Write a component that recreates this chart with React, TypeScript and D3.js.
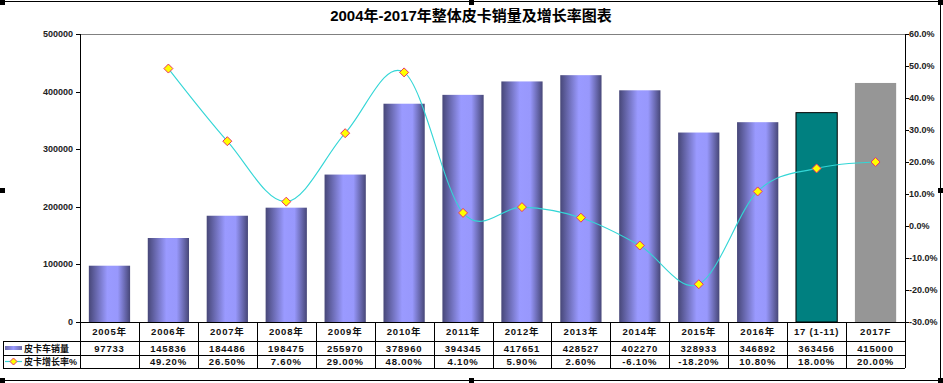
import React from "react";
import * as d3 from "d3";

const categories = ["2005年", "2006年", "2007年", "2008年", "2009年", "2010年", "2011年", "2012年", "2013年", "2014年", "2015年", "2016年", "17 (1-11)", "2017F"];
const sales = [97733, 145836, 184486, 198475, 255970, 378960, 394345, 417651, 428527, 402270, 328933, 346892, 363456, 415000];
const growth: (number | null)[] = [null, 49.2, 26.5, 7.6, 29.0, 48.0, 4.1, 5.9, 2.6, -6.1, -18.2, 10.8, 18.0, 20.0];
const growthLabels = ["", "49.20%", "26.50%", "7.60%", "29.00%", "48.00%", "4.10%", "5.90%", "2.60%", "-6.10%", "-18.20%", "10.80%", "18.00%", "20.00%"];
const leftTicks = [0, 100000, 200000, 300000, 400000, 500000];
const rightTicks = [-30, -20, -10, 0, 10, 20, 30, 40, 50, 60];
const title = "2004年-2017年整体皮卡销量及增长率图表";
const seriesNames = ["皮卡车销量", "皮卡增长率%"];

const W = 943, H = 383;
const L = 80, R = 905, T = 34, B = 322;
const FONT = "Arial, 'Liberation Sans', 'Noto Sans CJK SC', sans-serif";

export default function App() {
  const xBand = d3.scaleBand<string>().domain(categories).range([L, R]).paddingInner(0.3).paddingOuter(0.15);
  const xCol = d3.scaleBand<string>().domain(categories).range([L, R]).padding(0);
  const yL = d3.scaleLinear().domain([0, 500000]).range([B, T]);
  const yR = d3.scaleLinear().domain([-30, 60]).range([B, T]);

  const pts: [number, number][] = [];
  categories.forEach((c, i) => {
    const g = growth[i];
    if (g !== null) pts.push([xBand(c)! + xBand.bandwidth() / 2, yR(g)]);
  });
  const line = d3.line().curve(d3.curveCatmullRom.alpha(0))(pts) || "";
  const diamond = (x: number, y: number, r = 4.5) => `M${x},${y - r}L${x + r},${y}L${x},${y + r}L${x - r},${y}Z`;

  const rowTop = B, row1 = 341, row2 = 355, row3 = 368;

  const barFill = (i: number) => (i === 12 ? "#008080" : i === 13 ? "#969696" : "url(#barGrad)");

  return (
    <svg width={W} height={H} style={{ position: "absolute", left: 0, top: 0, background: "#fff" }} fontFamily={FONT}>
      <defs>
        <linearGradient id="barGrad" x1="0" x2="1" y1="0" y2="0">
          <stop offset="0" stopColor="#474778" />
          <stop offset="0.45" stopColor="#9a9aff" />
          <stop offset="0.7" stopColor="#9898fc" />
          <stop offset="1" stopColor="#474778" />
        </linearGradient>
        <linearGradient id="legGrad" x1="0" x2="1" y1="0" y2="0">
          <stop offset="0" stopColor="#6b6ba8" />
          <stop offset="0.5" stopColor="#9a9aff" />
          <stop offset="1" stopColor="#6b6ba8" />
        </linearGradient>
      </defs>
      <rect x={0} y={0} width={W} height={H} fill="#fff" />
      {/* chart frame */}
      <g stroke="#000" strokeWidth={1}>
        <line x1={0} x2={940.5} y1={1.5} y2={1.5} />
        <line x1={940.5} x2={940.5} y1={1.5} y2={381} />
        <line x1={0} x2={940.5} y1={380.5} y2={380.5} />
      </g>
      {[[0, 0], [469, 0], [938, 0], [0, 188], [938, 188], [0, 378], [469, 378], [938, 378]].map(([x, y], i) => (
        <rect key={i} x={x} y={y} width={5} height={5} fill="#000" />
      ))}

      <text x={471} y={21} textAnchor="middle" fontSize={15} fontWeight="bold" fill="#000">{title}</text>

      {/* plot border */}
      <line x1={L} x2={R} y1={T + 0.5} y2={T + 0.5} stroke="#808080" />

      {/* bars */}
      {categories.map((c, i) => (
        <rect key={c} x={xBand(c)} y={yL(sales[i])} width={xBand.bandwidth()} height={B - yL(sales[i])}
          fill={barFill(i)} stroke={i === 12 ? "#000" : "none"} strokeWidth={1} />
      ))}

      {/* axes */}
      <line x1={L + 0.5} x2={L + 0.5} y1={T} y2={B} stroke="#000" />
      <line x1={R + 0.5} x2={R + 0.5} y1={T} y2={B} stroke="#000" />
      {leftTicks.map((t) => (
        <g key={t}>
          <line x1={L - 4} x2={L} y1={Math.round(yL(t)) + 0.5} y2={Math.round(yL(t)) + 0.5} stroke="#000" />
          <text x={73} y={yL(t) + 3} textAnchor="end" fontSize={9} fontWeight="bold" fill="#222">{t}</text>
        </g>
      ))}
      {rightTicks.map((t) => (
        <g key={t}>
          <line x1={R} x2={R + 4} y1={Math.round(yR(t)) + 0.5} y2={Math.round(yR(t)) + 0.5} stroke="#000" />
          <text x={909} y={yR(t) + 3} textAnchor="start" fontSize={9} fontWeight="bold" fill="#222">{t.toFixed(1)}%</text>
        </g>
      ))}

      {/* growth line */}
      <path d={line} fill="none" stroke="#33d6d6" strokeWidth={1.1} />
      {pts.map(([x, y], i) => (
        <path key={i} d={diamond(x, y)} fill="#ffff00" stroke="#e8306a" strokeWidth={1} />
      ))}

      {/* data table */}
      <g stroke="#000" strokeWidth={1} fill="none">
        <line x1={L} x2={R} y1={rowTop + 0.5} y2={rowTop + 0.5} />
        <line x1={3} x2={R} y1={row1 + 0.5} y2={row1 + 0.5} />
        <line x1={3} x2={R} y1={row2 + 0.5} y2={row2 + 0.5} />
        <line x1={3} x2={R} y1={row3 + 0.5} y2={row3 + 0.5} />
        <line x1={3.5} x2={3.5} y1={row1} y2={row3} />
        {categories.map((c) => (
          <line key={c} x1={Math.round(xCol(c)!) + 0.5} x2={Math.round(xCol(c)!) + 0.5} y1={rowTop} y2={row3} />
        ))}
        <line x1={R + 0.5} x2={R + 0.5} y1={rowTop} y2={row3} />
      </g>
      {categories.map((c, i) => {
        const cx = xCol(c)! + xCol.bandwidth() / 2;
        return (
          <g key={c} fontSize={9.5} fontWeight="bold" fill="#111" textAnchor="middle" letterSpacing={0.8}>
            <text x={cx} y={335}>{c}</text>
            <text x={cx} y={352}>{sales[i]}</text>
            <text x={cx} y={365}>{growthLabels[i]}</text>
          </g>
        );
      })}
      {/* legend keys */}
      <rect x={5} y={346} width={17} height={4} fill="url(#legGrad)" />
      <text x={24} y={352} fontSize={9} fontWeight="bold" fill="#111">{seriesNames[0]}</text>
      <line x1={5} x2={22} y1={361.5} y2={361.5} stroke="#33d6d6" strokeWidth={1.2} />
      <path d={diamond(13.5, 361.5, 3.5)} fill="#ffff00" stroke="#e8306a" strokeWidth={1} />
      <text x={24} y={365} fontSize={9} fontWeight="bold" fill="#111">{seriesNames[1]}</text>
    </svg>
  );
}
